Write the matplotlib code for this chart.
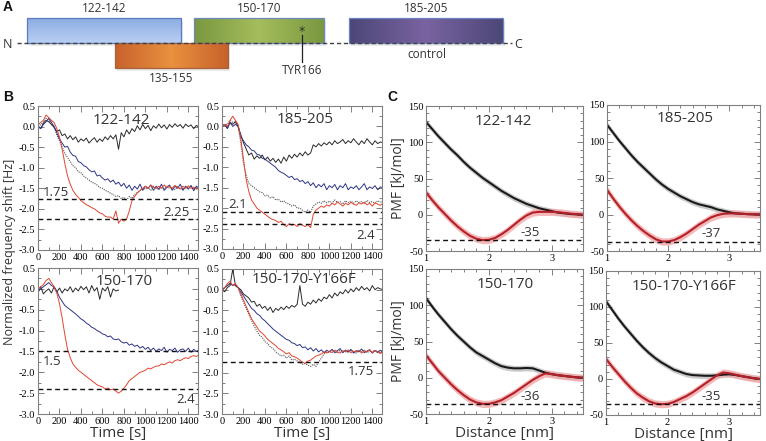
import numpy as np
import matplotlib.pyplot as plt
from matplotlib.ticker import MultipleLocator, FormatStrFormatter
from matplotlib.patches import Rectangle
from matplotlib.colors import to_rgb

plt.rcParams['axes.unicode_minus'] = False
SANS = 'Open Sans'
SERIF = 'Liberation Serif'

# ---------------- data ----------------
# panel A: peptide segments
seg_names = ['122-142', '150-170', '185-205', '135-155']

# panel B: QCM frequency shift, sampled every 25 s
t = np.arange(0, 1525, 25)
t_short = np.arange(0, 775, 25)
b_titles = ['122-142', '185-205', '150-170', '150-170-Y166F']

b1_black = [0.02, -0.05, 0.08, 0.15, 0.12, 0.05, -0.02, -0.12, -0.08, -0.22,
            -0.18, -0.30, -0.22, -0.32, -0.25, -0.38, -0.30, -0.35, -0.28, -0.40,
            -0.33, -0.27, -0.38, -0.30, -0.36, -0.25, -0.32, -0.22, -0.30, -0.20,
            -0.55, -0.15, -0.25, -0.08, -0.18, -0.05, -0.12, 0.02, -0.08, 0.05,
            -0.05, 0.03, -0.10, 0.02, -0.04, 0.06, -0.03, 0.04, -0.06, 0.05,
            -0.02, 0.07, 0.00, 0.05, -0.04, 0.06, 0.00, 0.04, -0.05, 0.03,
            -0.02]
b1_blue = [0.00, -0.05, 0.05, 0.12, 0.20, 0.10, 0.00, -0.15, -0.30, -0.40,
           -0.50, -0.48, -0.62, -0.70, -0.72, -0.85, -0.88, -0.95, -0.98, -1.05,
           -1.10, -1.08, -1.20, -1.18, -1.25, -1.30, -1.27, -1.35, -1.30, -1.40,
           -1.35, -1.45, -1.38, -1.50, -1.42, -1.55, -1.45, -1.52, -1.40, -1.55,
           -1.45, -1.50, -1.42, -1.55, -1.45, -1.52, -1.40, -1.55, -1.48, -1.42,
           -1.55, -1.45, -1.50, -1.40, -1.55, -1.45, -1.52, -1.43, -1.56, -1.45,
           -1.50]
b1_red = [0.05, 0.10, 0.15, 0.28, 0.22, 0.15, 0.10, -0.05, -0.25, -0.55,
          -0.90, -1.20, -1.40, -1.55, -1.65, -1.72, -1.80, -1.85, -1.90, -1.93,
          -1.97, -2.00, -2.05, -2.10, -2.12, -2.18, -2.20, -2.20, -2.25, -2.05,
          -2.35, -2.25, -2.30, -2.25, -2.05, -1.80, -1.70, -1.62, -1.55, -1.50,
          -1.45, -1.50, -1.42, -1.48, -1.50, -1.45, -1.50, -1.42, -1.48, -1.45,
          -1.50, -1.43, -1.48, -1.52, -1.45, -1.50, -1.44, -1.50, -1.47, -1.52,
          -1.50]
b1_dot = [0.00, 0.05, 0.10, 0.20, 0.15, 0.10, 0.00, -0.20, -0.35, -0.50,
          -0.65, -0.75, -0.85, -0.95, -1.00, -1.10, -1.12, -1.20, -1.25, -1.30,
          -1.35, -1.38, -1.42, -1.48, -1.50, -1.55, -1.58, -1.62, -1.65, -1.70,
          -1.68, -1.75, -1.72, -1.78, -1.70, -1.75, -1.65, -1.60, -1.55, -1.50,
          -1.52, -1.48, -1.55, -1.45, -1.50, -1.53, -1.47, -1.52, -1.45, -1.50,
          -1.48, -1.53, -1.46, -1.50, -1.52, -1.47, -1.50, -1.45, -1.52, -1.48,
          -1.50]

b2_black = [0.00, 0.05, -0.05, 0.10, 0.05, 0.12, 0.00, -0.20, -0.40, -0.55,
            -0.70, -0.65, -0.80, -0.72, -0.78, -0.70, -0.82, -0.75, -0.85, -0.78,
            -0.88, -0.80, -0.90, -0.75, -0.85, -0.70, -0.78, -0.68, -0.75, -0.65,
            -0.72, -0.62, -0.70, -0.65, -0.45, -0.50, -0.42, -0.48, -0.40, -0.45,
            -0.38, -0.45, -0.35, -0.42, -0.38, -0.32, -0.42, -0.35, -0.40, -0.30,
            -0.38, -0.45, -0.35, -0.42, -0.30, -0.38, -0.45, -0.35, -0.42, -0.38,
            -0.40]
b2_blue = [0.00, 0.05, -0.05, 0.10, 0.00, 0.05, 0.00, -0.25, -0.35, -0.45,
           -0.50, -0.58, -0.60, -0.68, -0.70, -0.78, -0.80, -0.85, -0.90, -0.95,
           -1.00, -1.08, -1.12, -1.15, -1.20, -1.25, -1.22, -1.30, -1.28, -1.35,
           -1.32, -1.40, -1.35, -1.45, -1.38, -1.50, -1.42, -1.48, -1.40, -1.55,
           -1.45, -1.50, -1.42, -1.55, -1.45, -1.50, -1.40, -1.55, -1.48, -1.52,
           -1.45, -1.55, -1.48, -1.40, -1.55, -1.48, -1.52, -1.45, -1.55, -1.48,
           -1.50]
b2_red = [0.00, 0.05, 0.00, 0.15, 0.25, 0.15, 0.05, -0.30, -0.80, -1.30,
          -1.60, -1.80, -1.90, -2.00, -2.05, -2.10, -2.15, -2.20, -2.25, -2.28,
          -2.30, -2.35, -2.32, -2.40, -2.45, -2.38, -2.42, -2.40, -2.45, -2.38,
          -2.42, -2.45, -2.40, -2.48, -2.15, -2.05, -2.00, -1.95, -1.98, -1.92,
          -1.95, -1.88, -1.92, -1.85, -1.90, -1.95, -1.88, -1.92, -1.86, -1.90,
          -1.93, -1.87, -1.90, -1.85, -1.92, -1.88, -1.95, -1.87, -1.90, -1.93,
          -1.88]
b2_dot = [0.00, 0.05, 0.05, 0.15, 0.10, 0.10, 0.00, -0.40, -0.90, -1.20,
          -1.40, -1.45, -1.50, -1.55, -1.60, -1.62, -1.70, -1.68, -1.75, -1.72,
          -1.80, -1.78, -1.85, -1.82, -1.88, -1.90, -1.95, -1.92, -2.00, -2.00,
          -2.05, -2.10, -2.05, -2.10, -1.95, -1.90, -1.85, -1.88, -1.82, -1.87,
          -1.83, -1.88, -1.80, -1.86, -1.84, -1.90, -1.82, -1.87, -1.83, -1.88,
          -1.82, -1.86, -1.84, -1.89, -1.81, -1.86, -1.84, -1.88, -1.82, -1.85,
          -1.84]

b3_black = [-0.10, 0.05, -0.12, -0.05, 0.00, -0.10, 0.05, -0.08, 0.02, -0.10,
            0.00, -0.05, 0.05, -0.08, 0.02, -0.05, 0.06, -0.02, 0.05, -0.10,
            0.08, -0.05, 0.03, -0.25, 0.02, -0.05, 0.05, -0.20, 0.00, -0.05,
            -0.03]
b3_blue = [-0.05, 0.00, 0.05, 0.10, 0.15, 0.08, 0.05, -0.05, -0.20, -0.30,
           -0.40, -0.45, -0.50, -0.55, -0.60, -0.66, -0.72, -0.76, -0.82, -0.86,
           -0.92, -0.95, -1.00, -1.03, -1.08, -1.10, -1.15, -1.13, -1.20, -1.22,
           -1.20, -1.27, -1.30, -1.28, -1.35, -1.32, -1.38, -1.35, -1.42, -1.38,
           -1.45, -1.40, -1.48, -1.42, -1.50, -1.44, -1.48, -1.40, -1.52, -1.45,
           -1.48, -1.42, -1.52, -1.46, -1.44, -1.50, -1.42, -1.52, -1.45, -1.50,
           -1.46]
b3_red = [0.00, 0.05, 0.10, 0.20, 0.25, 0.15, 0.05, -0.10, -0.35, -0.70,
          -1.10, -1.45, -1.65, -1.80, -1.88, -1.95, -2.00, -2.05, -2.10, -2.15,
          -2.20, -2.25, -2.30, -2.33, -2.35, -2.40, -2.38, -2.42, -2.40, -2.45,
          -2.50, -2.45, -2.38, -2.30, -2.20, -2.15, -2.10, -2.05, -2.00, -1.98,
          -1.95, -1.90, -1.92, -1.88, -1.85, -1.85, -1.80, -1.82, -1.78, -1.75,
          -1.78, -1.72, -1.70, -1.72, -1.68, -1.65, -1.67, -1.62, -1.60, -1.62,
          -1.58]

b4_black = [0.00, -0.05, 0.05, 0.10, 0.50, 0.10, 0.05, 0.00, -0.10, -0.15,
            -0.20, -0.30, -0.28, -0.40, -0.35, -0.45, -0.40, -0.50, -0.42, -0.55,
            -0.45, -0.50, -0.42, -0.48, -0.40, -0.45, -0.38, -0.42, -0.35, 0.10,
            -0.35, -0.40, -0.30, -0.35, -0.25, -0.32, -0.22, -0.28, -0.18, -0.22,
            -0.12, -0.20, -0.08, -0.15, -0.05, -0.10, 0.00, -0.08, 0.02, -0.05,
            0.05, -0.02, 0.08, 0.00, 0.05, -0.03, 0.10, 0.00, 0.05, 0.02,
            0.00]
b4_blue = [0.00, 0.05, 0.10, 0.15, 0.10, 0.12, 0.05, -0.05, -0.15, -0.25,
           -0.35, -0.45, -0.50, -0.58, -0.62, -0.70, -0.75, -0.82, -0.88, -0.95,
           -1.00, -1.05, -1.10, -1.15, -1.20, -1.22, -1.28, -1.30, -1.35, -1.32,
           -1.40, -1.38, -1.45, -1.40, -1.48, -1.42, -1.50, -1.45, -1.52, -1.46,
           -1.50, -1.44, -1.52, -1.47, -1.42, -1.52, -1.46, -1.50, -1.44, -1.53,
           -1.47, -1.50, -1.43, -1.52, -1.48, -1.45, -1.53, -1.47, -1.50, -1.46,
           -1.50]
b4_red = [-0.05, 0.05, 0.15, 0.20, 0.10, 0.15, 0.05, -0.10, -0.25, -0.40,
          -0.55, -0.70, -0.80, -0.90, -1.00, -1.05, -1.12, -1.20, -1.25, -1.30,
          -1.35, -1.42, -1.45, -1.50, -1.55, -1.52, -1.60, -1.62, -1.65, -1.70,
          -1.75, -1.78, -1.72, -1.70, -1.65, -1.60, -1.58, -1.55, -1.50, -1.53,
          -1.48, -1.52, -1.46, -1.50, -1.53, -1.47, -1.50, -1.45, -1.52, -1.48,
          -1.50, -1.46, -1.53, -1.48, -1.50, -1.45, -1.52, -1.47, -1.50, -1.54,
          -1.50]
b4_dot = [0.00, 0.05, 0.10, 0.15, 0.12, 0.10, 0.05, -0.15, -0.30, -0.45,
          -0.60, -0.75, -0.88, -1.00, -1.10, -1.15, -1.25, -1.30, -1.38, -1.42,
          -1.50, -1.55, -1.60, -1.58, -1.65, -1.60, -1.70, -1.68, -1.72, -1.75,
          -1.80, -1.78, -1.82, -1.85, -1.80, -1.85, -1.75, -1.65, -1.55, -1.50,
          -1.52, -1.47, -1.50, -1.53, -1.46, -1.50, -1.48, -1.52, -1.45, -1.50,
          -1.53, -1.47, -1.50, -1.45, -1.52, -1.48, -1.50, -1.46, -1.52, -1.49,
          -1.50]

# dashed reference levels
b_levels = [[-1.75, -2.25], [-2.1, -2.4], [-1.5, -2.4], [-1.75]]

# panel C: PMF curves
dist = np.linspace(1.0, 3.5, 26)
c_titles = ['122-142', '185-205', '150-170', '150-170-Y166F']
c_min = [-35, -37, -36, -35]

c1_black = [128, 118, 108, 99, 90, 82, 73, 65, 58, 51, 45, 39, 33, 28, 23, 19, 15, 12, 9, 7, 5, 3, 2, 1, 0.5, 0]
c1_red = [31, 20, 10, 1, -8, -16, -23, -29, -33, -35, -34.5, -32, -27, -21, -14, -7, -1, 3, 4, 4, 4, 3.5, 2.5, 1.5, 0.8, 0]
c2_black = [123, 112, 101, 91, 81, 72, 64, 56, 48, 41, 35, 30, 25, 21, 17, 14, 12, 10, 7, 5, 3, 1.5, 1, 0.5, 0.2, 0]
c2_red = [34, 22, 11, 1, -8, -16, -23, -29, -34, -37, -37, -35, -31, -26, -20, -14, -9, -4, -1, 1, 1.5, 1.5, 1, 0.5, 0.2, 0]
c3_black = [110, 98, 87, 77, 67, 58, 50, 42, 35, 30, 25, 20, 16, 14, 13, 13, 13.5, 13, 10, 7, 5, 3.5, 2.5, 1.5, 0.5, 0]
c3_red = [31, 20, 9, 0, -9, -17, -24, -30, -34, -36, -36, -34, -31, -26, -21, -15, -9, -3, 2, 6, 5, 3.5, 2.5, 1.5, 0.5, 0]
c4_black = [108, 96, 84, 73, 63, 53, 44, 36, 29, 23, 18, 13, 10, 7, 5.5, 5, 4.5, 4.5, 5, 6, 6.5, 5.5, 4, 2.5, 1, 0]
c4_red = [28, 17, 7, -3, -12, -20, -26, -31, -34, -35, -34.5, -32, -28, -24, -19, -13, -7, -1, 5, 9, 8, 6, 4, 2.5, 1, 0]

# ---------------- figure ----------------
W, H = 766, 441
fig = plt.figure(figsize=(W / 100, H / 100), dpi=100)
TXT = '#333333'


def px_axes(left, top, right, bottom):
    return fig.add_axes([left / W, 1 - bottom / H, (right - left) / W, (bottom - top) / H])


def style_ticks(ax):
    for s in ax.spines.values():
        s.set_color('#808080')
        s.set_linewidth(0.8)
    ax.tick_params(which='both', direction='in', top=True, right=True, color='#808080',
                   labelsize=7.5, pad=2, width=0.7)
    ax.tick_params(which='major', length=4)
    ax.tick_params(which='minor', length=2)
    for lab in ax.get_xticklabels() + ax.get_yticklabels():
        lab.set_fontfamily(SERIF)


# overlay in pixel coordinates (panel A, letters, shared label)
ov = fig.add_axes([0, 0, 1, 1])
ov.set_axis_off()


def grad_box(x0, x1, y0, y1, c_out, c_in, edge, vertical=False):
    s = np.linspace(0, 1, 100)
    w = s if vertical else 1 - np.abs(2 * s - 1)
    a, b = np.array(to_rgb(c_out)), np.array(to_rgb(c_in))
    row = a[None, :] * (1 - w[:, None]) + b[None, :] * w[:, None]
    img = row[:, None, :] if vertical else row[None, :, :]
    ov.add_patch(Rectangle((x0 + 2, y0 + 3), x1 - x0, y1 - y0, color='#000000', alpha=0.08, lw=0))
    ov.imshow(img, extent=(x0, x1, y1, y0), aspect='auto', zorder=2, interpolation='bilinear')
    ov.add_patch(Rectangle((x0, y0), x1 - x0, y1 - y0, fill=False, ec=edge, lw=0.9, zorder=3))


grad_box(27, 181, 18, 43, '#8cadE2', '#b8cff2', '#5a7bc2', vertical=True)
grad_box(194, 324, 18, 43, '#7a9840', '#a5bd5c', '#6d88bd')
grad_box(349, 503, 18, 43, '#4c4777', '#7a63a1', '#6a82c2')
grad_box(115, 228, 43, 68, '#c8622c', '#e8913e', '#a8603c')
ov.plot([17, 512], [43, 43], ls=(0, (3, 2)), color='#404040', lw=1.0, zorder=4)
ov.text(8, 44, 'N', ha='center', va='center', fontsize=9, family=SANS, color=TXT)
ov.text(518, 44, 'C', ha='center', va='center', fontsize=9, family=SANS, color=TXT)
for name, (x, y) in zip(seg_names, [(104, 9), (259, 9), (426, 9), (171, 78)]):
    ov.text(x, y, name, ha='center', va='center', fontsize=8.5, family=SANS, color=TXT)
ov.text(427, 55, 'control', ha='center', va='center', fontsize=8.5, family=SANS, color=TXT)
ov.text(302, 32, '*', ha='center', va='center', fontsize=9, color=TXT, zorder=5)
ov.plot([302, 302], [35, 62], color='#222222', lw=0.9, zorder=5)
ov.text(302, 70, 'TYR166', ha='center', va='center', fontsize=8.5, family=SANS, color=TXT)

for letter, (x, y) in zip(['A', 'B', 'C'], [(3, 7), (3, 97), (387, 97)]):
    ov.text(x, y, letter, ha='left', va='center', fontsize=10, weight='bold',
            family='Liberation Sans', color='#111111')
ov.text(10, 252, 'Normalized frequency shift [Hz]', rotation=90, ha='center', va='center',
        fontsize=9, family=SANS, color=TXT)
ov.set_xlim(0, W)
ov.set_ylim(H, 0)

# ---------------- panel B ----------------
b_boxes = [(38, 106, 198, 250), (222, 106, 382, 249), (38, 268, 198, 414), (222, 269, 382, 414)]
b_black = [b1_black, b2_black, b3_black, b4_black]
b_blue = [b1_blue, b2_blue, b3_blue, b4_blue]
b_red = [b1_red, b2_red, b3_red, b4_red]
b_dot = [b1_dot, b2_dot, None, b4_dot]
b_title_pos = [(780, 0.15), (775, 0.17), (800, 0.18), (760, 0.25)]
b_label_pos = [[(45, -1.6, 'left'), (1410, -2.1, 'right')],
               [(55, -1.92, 'left'), (1420, -2.66, 'right')],
               [(45, -1.75, 'left'), (1460, -2.66, 'right')],
               [(1420, -1.97, 'right')]]

for i, box in enumerate(b_boxes):
    ax = px_axes(*box)
    ax.set_zorder(2)
    if b_dot[i] is not None:
        ax.plot(t, b_dot[i], color='#555555', lw=0.8, ls=(0, (1, 1)))
    tb = t_short if i == 2 else t
    ax.plot(tb, b_black[i], color='#2a2a2a', lw=0.7)
    ax.plot(t, b_blue[i], color='#2e3585', lw=0.7)
    ax.plot(t, b_red[i], color='#e2452f', lw=0.7)
    for lev, (lx, ly, ha) in zip(b_levels[i], b_label_pos[i]):
        ax.axhline(lev, color='#111111', lw=1.0, ls=(0, (3.5, 2.5)))
        ax.text(lx, ly, f'{-lev:g}', ha=ha, va='center', fontsize=9.5, family=SANS, color=TXT)
    ax.text(*b_title_pos[i], b_titles[i], ha='center', va='center', fontsize=11, family=SANS,
            color=TXT)
    ax.set_xlim(0, 1490)
    ax.set_ylim(-3.0, 0.5)
    ax.xaxis.set_major_locator(MultipleLocator(200))
    ax.xaxis.set_minor_locator(MultipleLocator(100))
    ax.yaxis.set_major_locator(MultipleLocator(0.5))
    ax.yaxis.set_minor_locator(MultipleLocator(0.25))
    ax.yaxis.set_major_formatter(FormatStrFormatter('%.1f'))
    style_ticks(ax)
    if i >= 2:
        ax.set_xlabel('Time [s]', fontsize=11, family=SANS, color=TXT, labelpad=0)

# ---------------- panel C ----------------
c_boxes = [(426, 106, 583, 251), (607, 105, 760, 251), (426, 269, 583, 414), (606, 271, 760, 415)]
c_black = [c1_black, c2_black, c3_black, c4_black]
c_red = [c1_red, c2_red, c3_red, c4_red]
c_title_pos = [(2.23, 128), (2.27, 131), (2.26, 129), (2.27, 129)]
c_label_pos = [(2.5, -24), (2.55, -26), (2.5, -26), (2.55, -24)]

for i, box in enumerate(c_boxes):
    ax = px_axes(*box)
    ax.set_zorder(2)
    k = np.array(c_black[i], dtype=float)
    r = np.array(c_red[i], dtype=float)
    ax.fill_between(dist, k - 4, k + 4, color='#bdbdbd', lw=0, alpha=0.8)
    ax.fill_between(dist, r - 5, r + 5, color='#f3a7a7', lw=0, alpha=0.8)
    ax.plot(dist, k, color='#1a1a1a', lw=1.5)
    ax.plot(dist, r, color='#b3202a', lw=1.5)
    ax.axhline(c_min[i], color='#111111', lw=1.0, ls=(0, (3.5, 2.5)))
    ax.text(*c_label_pos[i], f'{c_min[i]}', ha='left', va='center', fontsize=9.5, family=SANS,
            color=TXT)
    ax.text(*c_title_pos[i], c_titles[i], ha='center', va='center', fontsize=11, family=SANS,
            color=TXT)
    ax.set_xlim(1, 3.5)
    ax.set_ylim(-50, 150)
    ax.xaxis.set_major_locator(MultipleLocator(1))
    ax.xaxis.set_minor_locator(MultipleLocator(0.2))
    ax.yaxis.set_major_locator(MultipleLocator(50))
    ax.yaxis.set_minor_locator(MultipleLocator(10))
    ax.xaxis.set_major_formatter(FormatStrFormatter('%d'))
    style_ticks(ax)
    if i % 2 == 0:
        ax.set_ylabel('PMF [kJ/mol]', fontsize=10, family=SANS, color=TXT, labelpad=1)
    if i >= 2:
        ax.set_xlabel('Distance [nm]', fontsize=11, family=SANS, color=TXT, labelpad=0)

fig.savefig('out.png', dpi=100)
